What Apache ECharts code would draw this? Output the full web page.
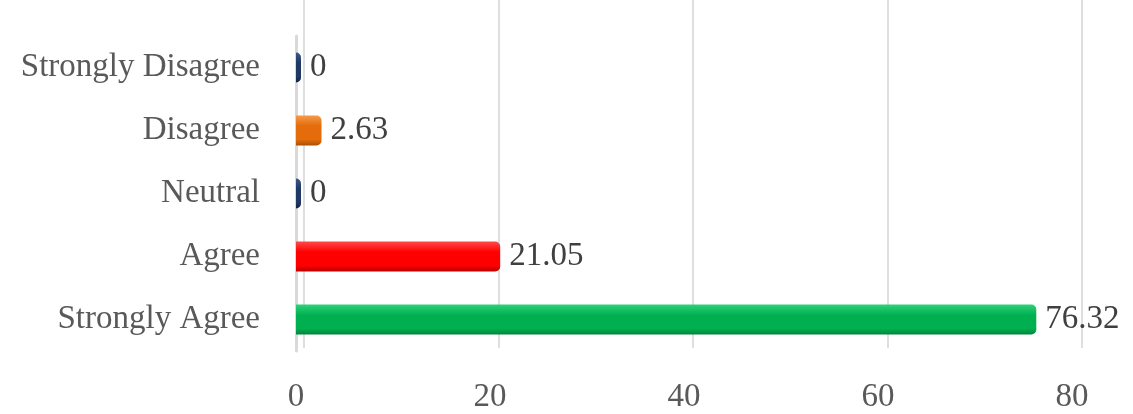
<!DOCTYPE html>
<html>
<head>
<meta charset="utf-8">
<script src="https://cdn.jsdelivr.net/npm/echarts@6/dist/echarts.min.js"></script>
<style>
  html, body { margin: 0; padding: 0; background: #fff; }
  #chart { width: 1133px; height: 414px; }
</style>
</head>
<body>
<div id="chart"></div>
<script>
// 数据：从下到上
const categories = ['Strongly Agree', 'Agree', 'Neutral', 'Disagree', 'Strongly Disagree'];
const values = [76.32, 21.05, 0, 2.63, 0];
const xTicks = [0, 20, 40, 60, 80];

// 柱子配色 (亮面 / 主色 / 暗面)
const barColors = [
    ['#2fd17a', '#00b050', '#00843c'],
    ['#ff4a4a', '#ff0000', '#b80000'],
    ['#3a5a8c', '#1f3864', '#13223d'],
    ['#f59a4a', '#e46c0a', '#a84e05'],
    ['#3a5a8c', '#1f3864', '#13223d']
];

const FONT = '"Liberation Serif", serif';

const chart = echarts.init(document.getElementById('chart'), null, { renderer: 'canvas' });

const seriesData = values.map((v, i) => ({
    value: v,
    itemStyle: {
        color: new echarts.graphic.LinearGradient(0, 0, 0, 1, [
            { offset: 0, color: barColors[i][0] },
            { offset: 0.35, color: barColors[i][1] },
            { offset: 0.8, color: barColors[i][1] },
            { offset: 1, color: barColors[i][2] }
        ]),
        borderRadius: [0, 5, 5, 0]
    }
}));

const option = {
    animation: false,
    grid: [
        // 主图区
        { left: 296, right: 61, top: 36, bottom: 57, containLabel: false },
        // 背景墙 (网格线)
        { left: 304, right: 51, top: 0, bottom: 66, containLabel: false }
    ],
    xAxis: [
        {
            gridIndex: 0,
            type: 'value',
            min: xTicks[0],
            max: xTicks[xTicks.length - 1],
            interval: 20,
            axisLine: { show: false },
            axisTick: { show: false },
            splitLine: { show: false },
            axisLabel: {
                color: '#595959',
                fontFamily: FONT,
                fontSize: 33,
                margin: 30
            }
        },
        {
            gridIndex: 1,
            type: 'value',
            min: xTicks[0],
            max: xTicks[xTicks.length - 1],
            interval: 20,
            axisLine: { show: false },
            axisTick: { show: false },
            axisLabel: { show: false },
            splitLine: { show: true, lineStyle: { color: '#dedede', width: 2 } }
        }
    ],
    yAxis: [
        {
            gridIndex: 0,
            type: 'category',
            data: categories,
            axisLine: { show: true, lineStyle: { color: '#d9d9d9', width: 3 } },
            axisTick: { show: false },
            axisLabel: {
                color: '#595959',
                fontFamily: FONT,
                fontSize: 33,
                margin: 36
            }
        },
        {
            gridIndex: 1,
            type: 'category',
            data: categories,
            axisLine: { show: false },
            axisTick: { show: false },
            axisLabel: { show: false }
        }
    ],
    series: [
        {
            type: 'bar',
            xAxisIndex: 0,
            yAxisIndex: 0,
            data: seriesData,
            barWidth: 30,
            barMinHeight: 5,
            label: {
                show: true,
                position: 'right',
                distance: 9,
                color: '#404040',
                fontFamily: FONT,
                fontSize: 33,
                formatter: p => String(p.value)
            },
            z: 3
        }
    ]
};

chart.setOption(option);
</script>
</body>
</html>
